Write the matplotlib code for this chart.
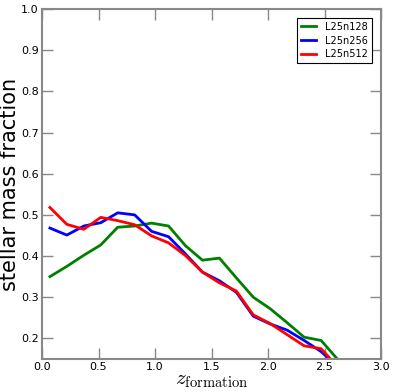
import matplotlib
matplotlib.use("Agg")
import matplotlib.pyplot as plt
import numpy as np

plt.rcParams['mathtext.fontset'] = 'cm'

z = [0.07, 0.22, 0.37, 0.52, 0.67, 0.82, 0.97, 1.12, 1.27, 1.42, 1.57, 1.72,
     1.87, 2.02, 2.17, 2.32, 2.47, 2.62, 2.77]
n128 = [0.350, 0.375, 0.402, 0.427, 0.470, 0.473, 0.480, 0.473, 0.425, 0.390,
        0.395, 0.347, 0.300, 0.272, 0.238, 0.203, 0.195, 0.148, 0.147]
n256 = [0.468, 0.451, 0.473, 0.481, 0.505, 0.500, 0.460, 0.447, 0.405, 0.361,
        0.340, 0.312, 0.254, 0.235, 0.220, 0.195, 0.168, 0.130, 0.120]
n512 = [0.518, 0.477, 0.465, 0.494, 0.486, 0.476, 0.449, 0.432, 0.401, 0.361,
        0.335, 0.315, 0.257, 0.236, 0.209, 0.182, 0.175, 0.130, 0.120]
labels = ['L25n128', 'L25n256', 'L25n512']
colors = ['green', 'blue', 'red']

fig = plt.figure(figsize=(3.95, 3.92), dpi=100)
ax = fig.add_axes([42/395, 1-359/392, (381-42)/395, (359-9)/392])
for vals, lab, c in zip([n128, n256, n512], labels, colors):
    ax.plot(z, vals, color=c, lw=2, label=lab)
ax.set_xlim(0, 3.0)
ax.set_ylim(0.15, 1.0)
ax.set_xticks([0.0, 0.5, 1.0, 1.5, 2.0, 2.5, 3.0])
ax.set_yticks([0.2, 0.3, 0.4, 0.5, 0.6, 0.7, 0.8, 0.9, 1.0])
for s in ax.spines.values():
    s.set_color('#888888')
    s.set_linewidth(1.5)
ax.tick_params(direction='in', length=8, width=1, color='#888888',
               top=True, right=True, labelsize=8, pad=2.5)
ax.set_ylabel('stellar mass fraction', fontsize=15)
ax.yaxis.set_label_coords(-0.064, 0.5)
ax.set_xlabel(r'$z_{\rm formation}$', fontsize=15, labelpad=-2)
leg = ax.legend(loc='upper right', fontsize=7, fancybox=False, framealpha=1,
                edgecolor='black', handlelength=1.5, handletextpad=1.0,
                labelspacing=0.4, borderaxespad=0.9)
leg.get_frame().set_linewidth(0.8)
fig.savefig('out.png', dpi=100)
